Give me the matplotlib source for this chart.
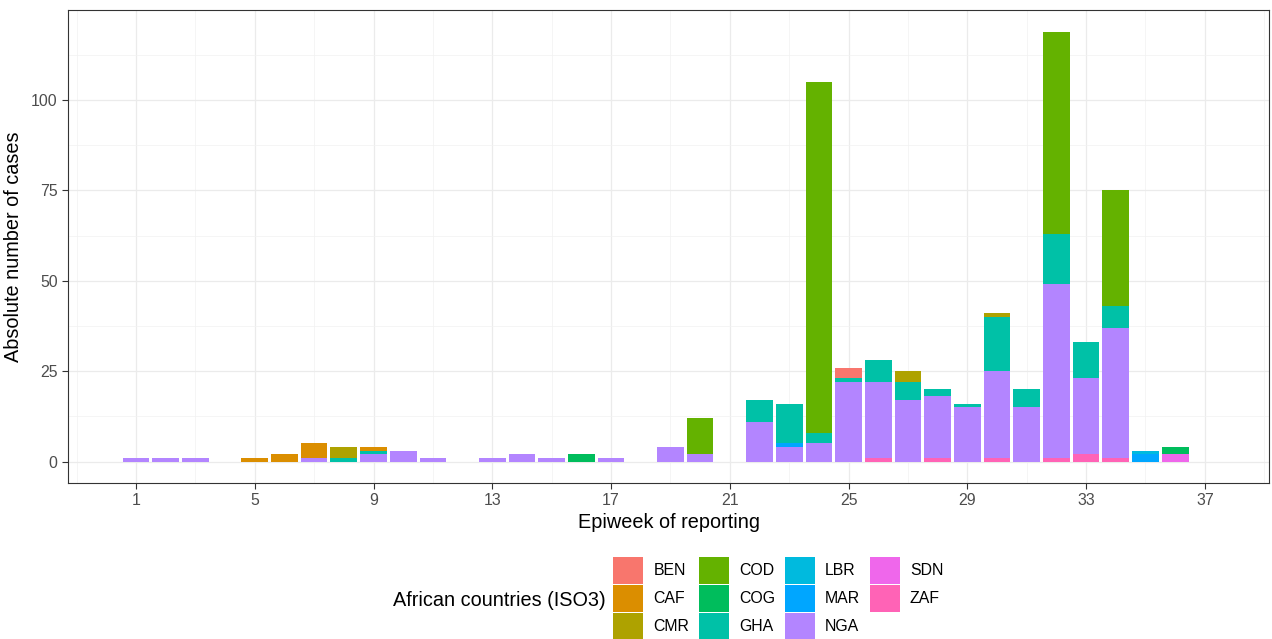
import numpy as np
import matplotlib
matplotlib.use("Agg")
import matplotlib.pyplot as plt
from matplotlib.patches import Patch

plt.rcParams['font.family'] = ['Liberation Sans', 'DejaVu Sans']

# Дані: кількість випадків за тиждень (тижні 1..36)
weeks = np.arange(1, 37)

#      тижні 1-12 / 13-24 / 25-36
ben = [0, 0, 0, 0, 0, 0, 0, 0, 0, 0, 0, 0,
       0, 0, 0, 0, 0, 0, 0, 0, 0, 0, 0, 0,
       3, 0, 0, 0, 0, 0, 0, 0, 0, 0, 0, 0]
caf = [0, 0, 0, 0, 1, 2, 4, 0, 1, 0, 0, 0,
       0, 0, 0, 0, 0, 0, 0, 0, 0, 0, 0, 0,
       0, 0, 0, 0, 0, 0, 0, 0, 0, 0, 0, 0]
cmr = [0, 0, 0, 0, 0, 0, 0, 3, 0, 0, 0, 0,
       0, 0, 0, 0, 0, 0, 0, 0, 0, 0, 0, 0,
       0, 0, 3, 0, 0, 1, 0, 0, 0, 0, 0, 0]
cod = [0, 0, 0, 0, 0, 0, 0, 0, 0, 0, 0, 0,
       0, 0, 0, 0, 0, 0, 0, 10, 0, 0, 0, 97,
       0, 0, 0, 0, 0, 0, 0, 56, 0, 32, 0, 0]
cog = [0, 0, 0, 0, 0, 0, 0, 0, 0, 0, 0, 0,
       0, 0, 0, 2, 0, 0, 0, 0, 0, 0, 0, 0,
       0, 0, 0, 0, 0, 0, 0, 0, 0, 0, 0, 2]
gha = [0, 0, 0, 0, 0, 0, 0, 1, 1, 0, 0, 0,
       0, 0, 0, 0, 0, 0, 0, 0, 0, 6, 11, 3,
       1, 6, 5, 2, 1, 15, 5, 14, 10, 6, 0, 0]
lbr = [0, 0, 0, 0, 0, 0, 0, 0, 0, 0, 0, 0,
       0, 0, 0, 0, 0, 0, 0, 0, 0, 0, 0, 0,
       0, 0, 0, 0, 0, 0, 0, 0, 0, 0, 1, 0]
mar = [0, 0, 0, 0, 0, 0, 0, 0, 0, 0, 0, 0,
       0, 0, 0, 0, 0, 0, 0, 0, 0, 0, 1, 0,
       0, 0, 0, 0, 0, 0, 0, 0, 0, 0, 2, 0]
nga = [1, 1, 1, 0, 0, 0, 1, 0, 2, 3, 1, 0,
       1, 2, 1, 0, 1, 0, 4, 2, 0, 11, 4, 5,
       22, 21, 17, 17, 15, 24, 15, 48, 21, 36, 0, 0]
sdn = [0, 0, 0, 0, 0, 0, 0, 0, 0, 0, 0, 0,
       0, 0, 0, 0, 0, 0, 0, 0, 0, 0, 0, 0,
       0, 0, 0, 0, 0, 0, 0, 0, 0, 0, 0, 2]
zaf = [0, 0, 0, 0, 0, 0, 0, 0, 0, 0, 0, 0,
       0, 0, 0, 0, 0, 0, 0, 0, 0, 0, 0, 0,
       0, 1, 0, 1, 0, 1, 0, 1, 2, 1, 0, 0]

countries = ['BEN', 'CAF', 'CMR', 'COD', 'COG', 'GHA', 'LBR', 'MAR', 'NGA', 'SDN', 'ZAF']
series = [ben, caf, cmr, cod, cog, gha, lbr, mar, nga, sdn, zaf]
colors = ['#F8766D', '#DB8E00', '#AEA200', '#64B200', '#00BD5C', '#00C1A7',
          '#00BADE', '#00A6FF', '#B385FF', '#EF67EB', '#FF63B6']

fig = plt.figure(figsize=(12.72, 6.39), dpi=100)
ax = fig.add_axes([68 / 1272, 1 - 483 / 639, (1269 - 68) / 1272, (483 - 10) / 639])

# Стовпці зі складанням (як у ggplot: перший рівень зверху)
bottom = np.zeros(len(weeks))
for name, vals, col in reversed(list(zip(countries, series, colors))):
    vals = np.array(vals, dtype=float)
    ax.bar(weeks, vals, width=0.9, bottom=bottom, color=col, linewidth=0, zorder=3)
    bottom += vals

# Осі
ax.set_xlim(-1.29, 39.16)
ax.set_ylim(-5.95, 124.95)
ax.set_xticks(np.arange(1, 38, 4))
ax.set_xticks(np.arange(-1, 40, 4), minor=True)
ax.set_yticks([0, 25, 50, 75, 100])
ax.set_yticks([12.5, 37.5, 62.5, 87.5, 112.5], minor=True)
ax.grid(which='major', color='#EBEBEB', linewidth=0.9, zorder=0)
ax.grid(which='minor', color='#F2F2F2', linewidth=0.5, zorder=0)
ax.set_axisbelow(True)
ax.tick_params(which='major', direction='out', length=4, width=0.8, color='#333333',
               labelsize=11.4, labelcolor='#4D4D4D')
ax.tick_params(which='minor', length=0)
for s in ax.spines.values():
    s.set_color('#333333')
    s.set_linewidth(0.8)

ax.set_xlabel("Epiweek of reporting", fontsize=14.3, labelpad=3)
ax.set_ylabel("Absolute number of cases", fontsize=14.3, labelpad=6)

# Легенда
handles = [Patch(facecolor=c, edgecolor='none') for c in colors]
fig.legend(handles, countries, loc='upper left', bbox_to_anchor=(613 / 1272, 1 - 557 / 639),
           ncol=4, frameon=False, fontsize=11.4, handlelength=1.9, handleheight=2.2,
           labelspacing=0.1, handletextpad=0.65, columnspacing=0.6,
           borderpad=0, borderaxespad=0)
fig.text(393 / 1272, 1 - 601 / 639, "African countries (ISO3)", fontsize=14.3, va='center', ha='left')

fig.savefig("out.png", dpi=100)
